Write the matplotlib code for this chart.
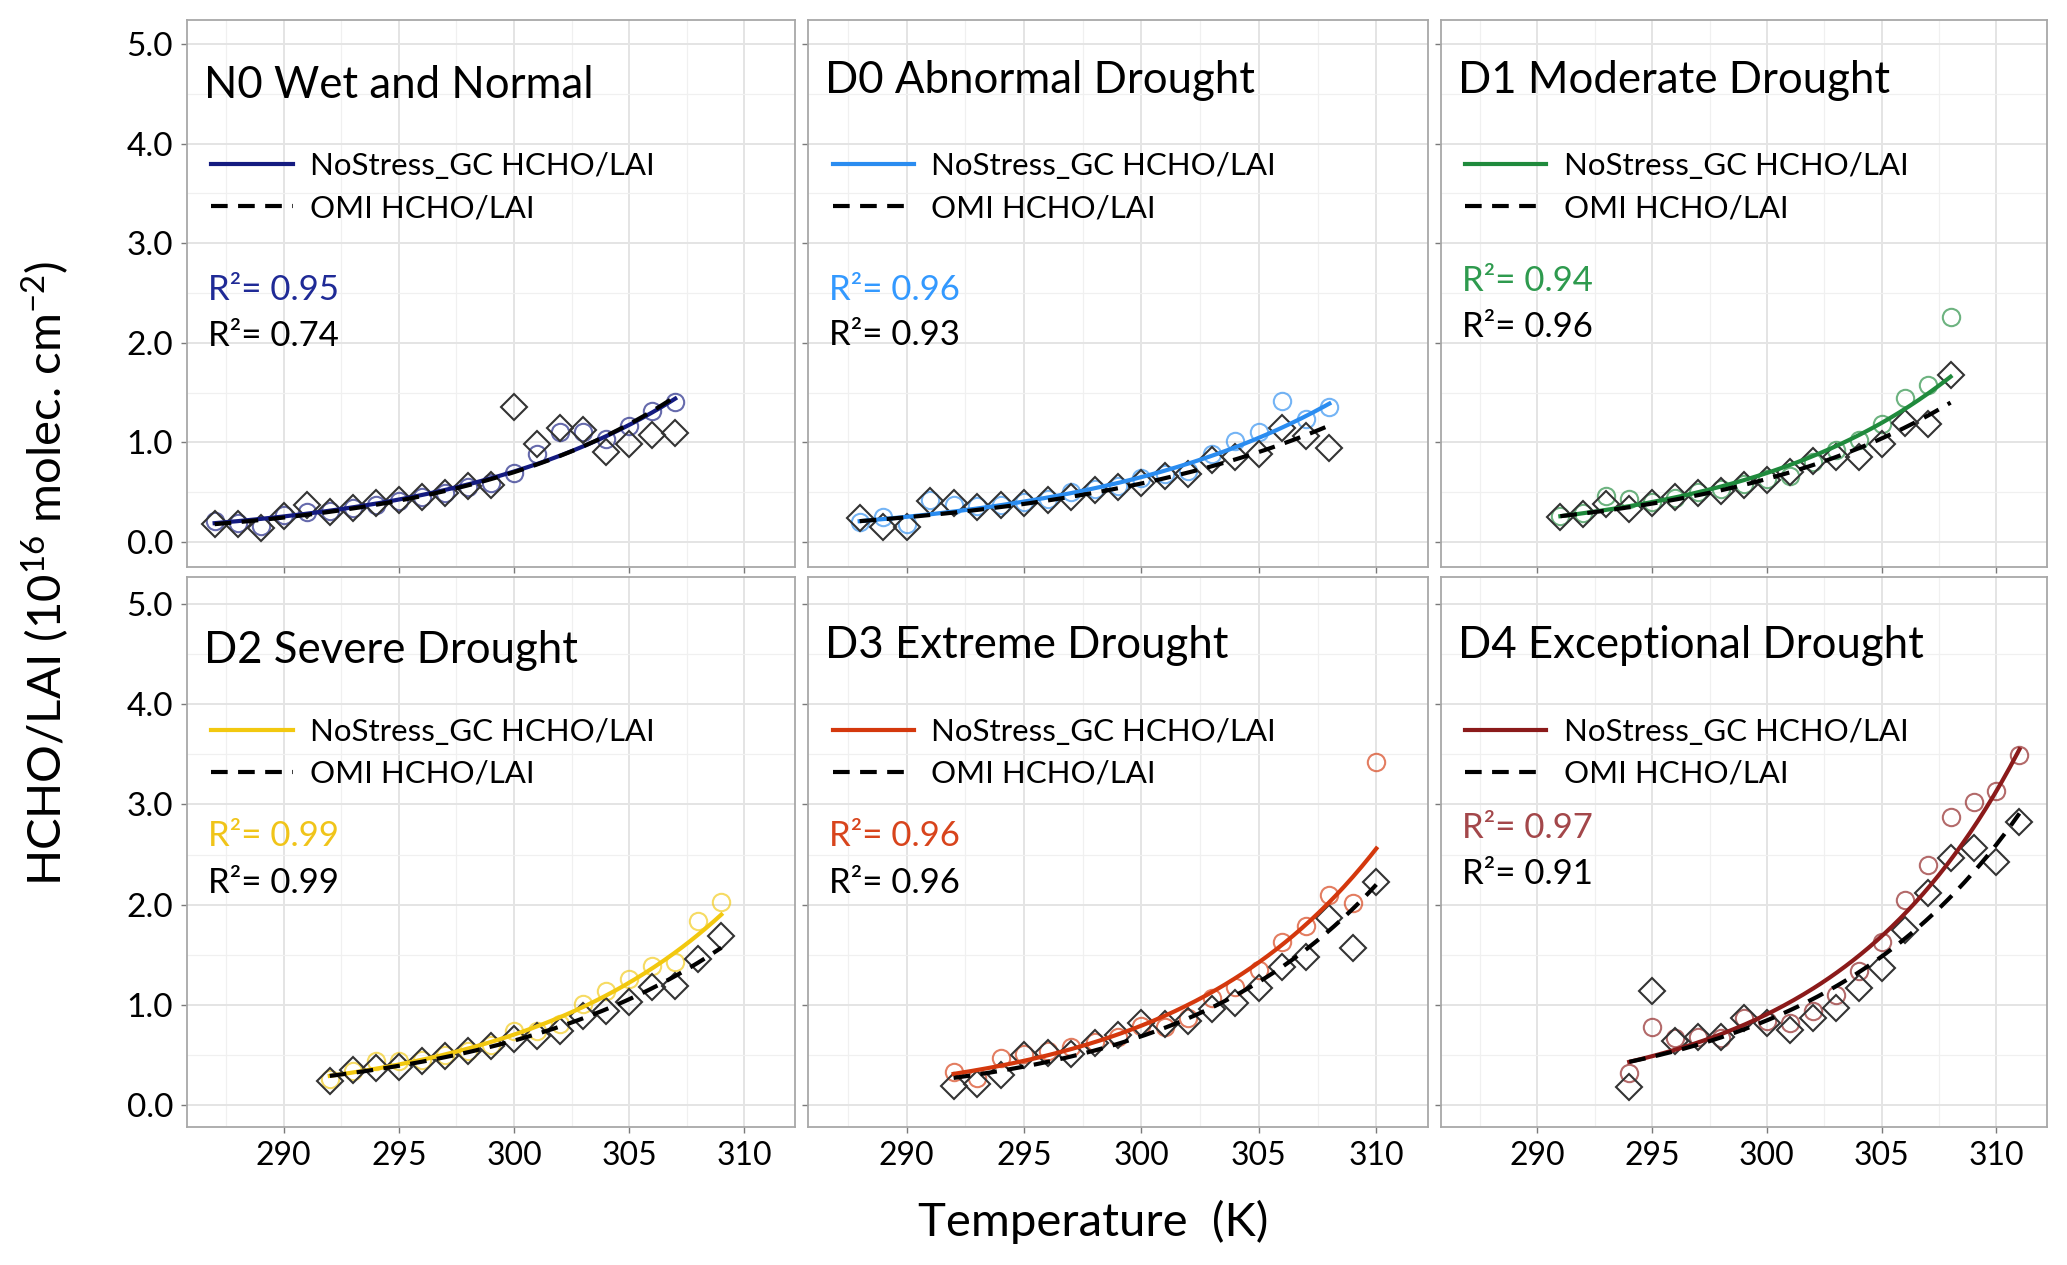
import numpy as np
import matplotlib
matplotlib.use("Agg")
import matplotlib.pyplot as plt
from matplotlib.lines import Line2D

plt.rcParams['font.family'] = ['Lato', 'DejaVu Sans']
plt.rcParams['mathtext.fontset'] = 'custom'
plt.rcParams['mathtext.rm'] = 'Lato'
plt.rcParams['mathtext.it'] = 'Lato:italic'

# --- data (temperature in K, HCHO/LAI in 1e16 molec cm-2) ---
panel_titles = ["N0 Wet and Normal", "D0 Abnormal Drought", "D1 Moderate Drought",
                "D2 Severe Drought", "D3 Extreme Drought", "D4 Exceptional Drought"]

temp_n0 = [287, 288, 289, 290, 291, 292, 293, 294, 295, 296, 297, 298, 299, 300, 301, 302, 303, 304, 305, 306, 307]
gc_n0 = [0.21, 0.19, 0.16, 0.27, 0.30, 0.31, 0.34, 0.37, 0.41, 0.45, 0.49, 0.55, 0.59, 0.69, 0.88, 1.10, 1.10, 1.03, 1.17, 1.32, 1.41]
omi_n0 = [0.18, 0.18, 0.14, 0.26, 0.37, 0.30, 0.34, 0.39, 0.42, 0.45, 0.49, 0.56, 0.57, 1.36, 0.98, 1.15, 1.12, 0.90, 0.98, 1.07, 1.09]

temp_d0 = [288, 289, 290, 291, 292, 293, 294, 295, 296, 297, 298, 299, 300, 301, 302, 303, 304, 305, 306, 307, 308]
gc_d0 = [0.20, 0.25, 0.18, 0.42, 0.37, 0.36, 0.37, 0.40, 0.43, 0.50, 0.53, 0.56, 0.64, 0.68, 0.71, 0.88, 1.01, 1.10, 1.42, 1.24, 1.36]
omi_d0 = [0.24, 0.15, 0.15, 0.41, 0.39, 0.35, 0.37, 0.39, 0.42, 0.45, 0.52, 0.55, 0.59, 0.66, 0.68, 0.82, 0.85, 0.88, 1.15, 1.06, 0.94]

temp_d1 = [291, 292, 293, 294, 295, 296, 297, 298, 299, 300, 301, 302, 303, 304, 305, 306, 307, 308]
gc_d1 = [0.26, 0.29, 0.46, 0.43, 0.40, 0.44, 0.50, 0.53, 0.58, 0.63, 0.66, 0.80, 0.92, 1.02, 1.19, 1.45, 1.58, 2.26]
omi_d1 = [0.25, 0.28, 0.38, 0.33, 0.39, 0.45, 0.49, 0.51, 0.57, 0.62, 0.70, 0.81, 0.85, 0.85, 0.98, 1.20, 1.19, 1.68]

temp_d2 = [292, 293, 294, 295, 296, 297, 298, 299, 300, 301, 302, 303, 304, 305, 306, 307, 308, 309]
gc_d2 = [0.26, 0.34, 0.44, 0.44, 0.45, 0.50, 0.54, 0.60, 0.74, 0.74, 0.81, 1.01, 1.14, 1.26, 1.39, 1.43, 1.84, 2.03]
omi_d2 = [0.24, 0.35, 0.37, 0.38, 0.44, 0.49, 0.54, 0.59, 0.66, 0.69, 0.74, 0.89, 0.94, 1.03, 1.18, 1.19, 1.46, 1.69]

temp_d3 = [292, 293, 294, 295, 296, 297, 298, 299, 300, 301, 302, 303, 304, 305, 306, 307, 308, 309, 310]
gc_d3 = [0.33, 0.27, 0.47, 0.51, 0.54, 0.58, 0.63, 0.68, 0.79, 0.78, 0.87, 1.07, 1.18, 1.35, 1.63, 1.79, 2.10, 2.02, 3.42]
omi_d3 = [0.19, 0.21, 0.30, 0.50, 0.52, 0.51, 0.62, 0.70, 0.82, 0.81, 0.84, 0.96, 1.02, 1.17, 1.38, 1.48, 1.87, 1.57, 2.23]

temp_d4 = [294, 295, 296, 297, 298, 299, 300, 301, 302, 303, 304, 305, 306, 307, 308, 309, 310, 311]
gc_d4 = [0.32, 0.78, 0.67, 0.68, 0.67, 0.87, 0.84, 0.82, 0.94, 1.10, 1.34, 1.63, 2.05, 2.40, 2.87, 3.02, 3.13, 3.49]
omi_d4 = [0.18, 1.14, 0.64, 0.68, 0.68, 0.87, 0.82, 0.75, 0.87, 0.97, 1.17, 1.37, 1.75, 2.12, 2.47, 2.56, 2.43, 2.82]

# exponential fit curves, value at first and last temperature
fit_gc = [(0.19, 1.44), (0.21, 1.39), (0.26, 1.66), (0.29, 1.90), (0.31, 2.56), (0.43, 3.55)]
fit_omi = [(0.18, 1.46), (0.21, 1.17), (0.26, 1.40), (0.29, 1.57), (0.27, 2.20), (0.43, 2.91)]

r2_gc = ["0.95", "0.96", "0.94", "0.99", "0.96", "0.97"]
r2_omi = ["0.74", "0.93", "0.96", "0.99", "0.96", "0.91"]

temps = [temp_n0, temp_d0, temp_d1, temp_d2, temp_d3, temp_d4]
gc_vals = [gc_n0, gc_d0, gc_d1, gc_d2, gc_d3, gc_d4]
omi_vals = [omi_n0, omi_d0, omi_d1, omi_d2, omi_d3, omi_d4]

line_colors = ["#141b80", "#2a8cf0", "#1f8a3c", "#f2c80f", "#d4380d", "#8b1a1a"]
text_colors = ["#1f2a96", "#3399ff", "#2e9a4e", "#f0c419", "#d8441c", "#a3474a"]

# panel rectangles in pixels of the 2067x1265 output
W, H = 2067.0, 1265.0
col_x = [(187, 795), (808, 1428), (1441, 2047)]
row_y = [(20, 567), (577, 1127)]
row_ylim = [(-0.25, 5.24), (-0.22, 5.27)]
title_y = [0.880, 0.889, 0.889, 0.866, 0.875, 0.875]
legend_y = [0.758, 0.744]
r2_y = [(0.507, 0.422), (0.507, 0.424), (0.522, 0.438),
        (0.530, 0.444), (0.530, 0.444), (0.544, 0.460)]

fig = plt.figure(figsize=(W / 100, H / 100), dpi=100)

for i in range(6):
    r, c = divmod(i, 3)
    x0, x1 = col_x[c]
    y0, y1 = row_y[r]
    ax = fig.add_axes([x0 / W, 1 - y1 / H, (x1 - x0) / W, (y1 - y0) / H])

    ax.set_xlim(285.8, 312.2)
    ax.set_ylim(*row_ylim[r])
    ax.set_xticks([290, 295, 300, 305, 310])
    ax.set_xticks([287.5, 292.5, 297.5, 302.5, 307.5], minor=True)
    ax.set_yticks([0, 1, 2, 3, 4, 5])
    ax.set_yticks([0.5, 1.5, 2.5, 3.5, 4.5], minor=True)
    ax.set_yticklabels(["0.0", "1.0", "2.0", "3.0", "4.0", "5.0"])
    ax.grid(which='major', color='#e4e4e4', lw=1.4)
    ax.grid(which='minor', color='#f0f0f0', lw=0.9)
    ax.set_axisbelow(True)
    for sp in ax.spines.values():
        sp.set_color('#a8a8a8')
        sp.set_linewidth(1.3)
    ax.tick_params(which='major', length=4, width=1, color='#7a7a7a', pad=6)
    ax.tick_params(axis='x', labelsize=23)
    ax.tick_params(axis='y', labelsize=24)
    ax.tick_params(which='minor', length=0)
    ax.tick_params(labelleft=(c == 0), labelbottom=(r == 1))

    T = np.array(temps[i], dtype=float)
    col = line_colors[i]
    ax.plot(T, gc_vals[i], 'o', mfc='none', mec=col, alpha=0.65, ms=12.5, mew=1.5, zorder=3)
    ax.plot(T, omi_vals[i], 'D', mfc='none', mec='#333333', ms=13, mew=1.5, zorder=3)

    tt = np.linspace(T[0], T[-1], 200)
    s, e = fit_gc[i]
    ax.plot(tt, s * (e / s) ** ((tt - T[0]) / (T[-1] - T[0])), '-', color=col, lw=3, zorder=4)
    s, e = fit_omi[i]
    ax.plot(tt, s * (e / s) ** ((tt - T[0]) / (T[-1] - T[0])), color='black', lw=3,
            dashes=(4, 2.5), zorder=5)

    ax.text(0.028, title_y[i], panel_titles[i], transform=ax.transAxes,
            fontsize=31.5, va='center', ha='left')
    ax.legend([Line2D([0], [0], color=col, lw=3), Line2D([0], [0], color='black', lw=3, dashes=(4, 2.5))],
              ["NoStress_GC HCHO/LAI", "OMI HCHO/LAI"],
              loc='upper left', bbox_to_anchor=(0.04, legend_y[r]), frameon=False,
              fontsize=22.5, handlelength=2.6, handletextpad=0.55, labelspacing=0.45,
              borderaxespad=0, borderpad=0)
    ax.text(0.034, r2_y[i][0], "R²= " + r2_gc[i], transform=ax.transAxes,
            fontsize=25, color=text_colors[i], va='center', ha='left')
    ax.text(0.034, r2_y[i][1], "R²= " + r2_omi[i], transform=ax.transAxes,
            fontsize=25, color='black', va='center', ha='left')

fig.text(0.022, 0.547, "HCHO/LAI (10$^{16}$ molec. cm$^{-2}$)", rotation=90,
         fontsize=34, ha='center', va='center')
fig.text(0.529, 0.034, "Temperature  (K)", fontsize=34, ha='center', va='center')

fig.savefig("out.png", dpi=100)
